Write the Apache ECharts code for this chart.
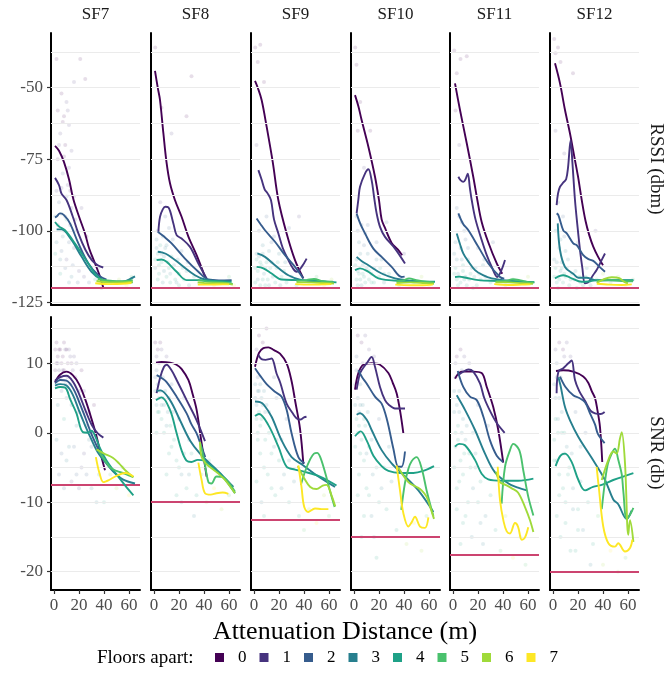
<!DOCTYPE html>
<html>
<head>
<meta charset="utf-8">
<script src="https://cdn.jsdelivr.net/npm/echarts@6/dist/echarts.min.js"></script>
<style>
  html, body { margin: 0; padding: 0; background: #fff; }
  #chart { width: 665px; height: 673px; }
</style>
</head>
<body>
<div id="chart"></div>
<script>
// facet labels, floors, colours
const sfLabels = ['SF7', 'SF8', 'SF9', 'SF10', 'SF11', 'SF12'];
const floorLabels = ['0', '1', '2', '3', '4', '5', '6', '7'];
const floorColors = ['#440154', '#46337E', '#365C8D', '#277F8E', '#1FA187', '#4AC16D', '#9FDA3A', '#FDE725'];

// ticks and gridlines
const xTicks = [0, 20, 40, 60];
const rssiTicks = [-125, -100, -75, -50];
const snrTicks = [-20, -10, 0, 10];
const rssiGridLines = [-125, -112.5, -100, -87.5, -75, -62.5, -50, -37.5];
const snrGridLines = [-20, -15, -10, -5, 0, 5, 10, 15];

// sensitivity limits per SF
const rssiLimit = [-120, -120, -120, -120, -120, -120];
const snrLimit = [-7.5, -10, -12.5, -15, -17.5, -20];

// RSSI smoothed curves, one array per floor (0..7)
const rssiSF7 = [
  [[0.8,-70.3],[4,-72],[8,-76],[12,-82],[15.5,-89],[20,-95],[24.8,-100.9],[28,-106],[32.8,-111.4],[36,-115],[39.4,-119.8]],
  [[0.8,-81.5],[4,-84],[6,-87],[10.1,-89.3],[15,-95],[19.5,-100.9],[25,-106.5],[30.2,-110.2],[35,-112],[39.4,-112.8]],
  [[0.8,-95.3],[2.1,-95],[4.8,-93.9],[8,-94.5],[12.8,-97.4],[19.5,-104.4],[27.5,-111.4],[35.5,-115.5],[42,-117]],
  [[2.1,-99.5],[6,-99.5],[14,-103.2],[22,-109],[30,-114.3],[38,-117],[46,-117.8],[55,-117.8],[60,-117],[64.8,-115.9]],
  [[0.8,-96.9],[4,-98.5],[8.8,-99.8],[16.8,-104.4],[27.5,-111.4],[35.5,-116.3],[46,-117.8],[55,-118],[63,-118]],
  [[35,-116.8],[42,-117.3],[50,-117.6],[58,-117.5],[63,-117.2]],
  [[34,-117.5],[45,-118],[55,-118],[63,-117.8]],
  [[33,-118.3],[45,-118.6],[55,-118.5],[62,-118.2]]
];
const rssiSF8 = [
  [[0.8,-44.1],[3,-50],[4.8,-54.3],[7.5,-65.9],[10,-76],[12.8,-83.4],[16.8,-89.3],[22,-95],[27.5,-102],[34.1,-108.5],[40.8,-116.1]],
  [[3.5,-100.3],[4.8,-95.1],[7,-92.5],[9,-91.6],[11.5,-91.8],[15.5,-97.4],[18.1,-101.5],[22.1,-102.7],[28.8,-105.6],[35.5,-111.4],[42.1,-116.6]],
  [[3,-100.3],[8,-102],[14.1,-104.4],[24.8,-109.7],[35.5,-114.3],[43.5,-117],[52,-117.3],[62.1,-117.2]],
  [[3,-107.3],[6,-107.5],[11.5,-108.5],[22.1,-112],[32.8,-115.5],[40.8,-117],[50,-117.5]],
  [[2.1,-110.2],[6,-110],[10.1,-110.8],[18.1,-114.3],[26.1,-117.2],[35.5,-117.2],[48,-117.5],[62.1,-117.8]],
  [[35,-117.2],[45,-117.8],[55,-118],[63,-118.5]],
  [[35,-118],[45,-118.3],[55,-118.3],[63,-118.8]],
  [[35,-118.8],[45,-118.8],[55,-118.7],[60,-118.7]]
];
const rssiSF9 = [
  [[0.8,-47.6],[3,-50],[6.1,-54.3],[10.1,-63.6],[15,-76],[19.5,-89.3],[26.1,-100.9],[32.8,-110.2],[39.5,-116.6]],
  [[3.5,-78.8],[6,-82],[8.5,-85.5],[11,-87],[13.6,-89.3],[16,-96],[19.5,-100.9],[23,-106],[27.5,-110.2],[31,-113],[34.1,-114.3],[38.1,-112.6],[42.1,-109.7]],
  [[2.1,-95.7],[5,-97.5],[8.8,-99.8],[16.8,-103.8],[24.8,-108.5],[32.8,-112.6],[39.4,-116.6]],
  [[2.7,-107.9],[8.8,-109.1],[16.8,-112],[27.5,-115.5],[38.1,-117.2],[50,-117.6],[63.5,-118]],
  [[2.1,-112.6],[7.5,-113.1],[14.1,-114.9],[22.1,-117],[35.5,-117.2],[50,-117.5],[66,-118]],
  [[34,-117.5],[42,-117.2],[48,-116.8],[55,-117.6],[63,-117.8]],
  [[34,-118],[45,-118],[55,-118.2],[64,-118.4]],
  [[33,-118.6],[45,-118.8],[55,-118.7],[62,-118.6]]
];
const rssiSF10 = [
  [[0.8,-52.6],[3.5,-56.5],[6.1,-61.3],[11.5,-70.6],[16.8,-81.1],[20,-89.3],[22.1,-96],[24.8,-99],[30.1,-104.2],[35,-106.5],[38.5,-108.5]],
  [[2.1,-93.9],[3.5,-89],[4.8,-84.6],[8.8,-80],[11.5,-78.5],[14.1,-82.3],[16,-88],[18.1,-93.9],[20.8,-98.6],[24.8,-102.1],[32.8,-106.2],[40.8,-111.4]],
  [[2.1,-94],[5,-97.5],[8.8,-100.9],[15.5,-106.2],[22.1,-109.1],[30.1,-112.6],[38.1,-116.1],[40.5,-116]],
  [[2.1,-109.1],[6,-110.5],[11.5,-112],[22.1,-114.9],[32.8,-116.6],[40.8,-117.2],[50,-117.5]],
  [[0.8,-113.7],[4.8,-113.1],[11.5,-114.3],[19.5,-116.6],[30.1,-117.3],[45,-117.6],[64.8,-117.8]],
  [[34,-117.6],[40,-117.2],[44,-116.6],[50,-117.2],[58,-117.8],[64,-118]],
  [[34,-118.2],[45,-118],[55,-118.2],[64,-118.5]],
  [[33,-118.8],[45,-119],[55,-119],[63,-118.8]]
];
const rssiSF11 = [
  [[1.6,-48.5],[5.6,-57.8],[11,-69.4],[16.2,-81.1],[19.5,-89.3],[23,-97],[28.2,-104],[35,-111.4],[39.4,-115]],
  [[4.3,-81.1],[6,-82.3],[8.2,-82.9],[10,-82],[11.8,-80],[13.5,-85],[15,-89.3],[18,-96],[23,-103.3],[27,-108.5],[31,-112.6],[35.4,-116.1],[38.5,-114],[41.6,-110.2]],
  [[4.3,-93.9],[8,-97.5],[12.3,-99.8],[20.3,-105.6],[28.3,-111.4],[37.6,-116.1],[41,-116.7]],
  [[3,-100.9],[5.5,-104.5],[8.2,-107.9],[12,-110.5],[17.6,-113.7],[24,-115.5],[31,-116.6],[45,-117.4],[65,-118]],
  [[1.6,-116.1],[5,-116],[9.6,-116.3],[20.3,-117.2],[35.4,-117.5],[50,-117.7],[65,-117.9]],
  [[34,-117.7],[42,-117.5],[48,-116.9],[54,-117.3],[60,-117.9],[65,-118]],
  [[34,-118],[45,-118],[55,-118.3],[64,-118.5]],
  [[33,-118.6],[45,-118.9],[55,-118.8],[62,-118.7]]
];
const rssiSF12 = [
  [[1.6,-41.5],[5.6,-48.5],[9.6,-57.8],[13.6,-66],[17,-74],[20,-81],[23,-89.3],[26,-96.5],[29,-101.5],[32.2,-105.5],[36,-109],[40,-112]],
  [[2.9,-91],[4,-87],[5.6,-84.6],[8.5,-83],[10.5,-82],[12,-78],[14.1,-68.3],[15.5,-76],[17.6,-89.3],[19.5,-98],[21.6,-106.7],[23.5,-113],[25.6,-118.3],[28.2,-118],[32,-115.5],[34.9,-113.7],[38,-111],[41.6,-107.9]],
  [[2.9,-93.9],[4.3,-94.5],[8.2,-99.8],[11,-100.9],[16.2,-104.4],[19,-105],[24.2,-108.5],[28,-109.8],[32.2,-110.5],[37,-112.5],[41.6,-114.3]],
  [[3.8,-97.4],[5.6,-106.7],[9.6,-112.6],[16.2,-115],[20.3,-116.4],[26.9,-116.4],[33.6,-117.2],[45,-117.3],[64.3,-117.3]],
  [[1.6,-116.6],[5,-115.8],[8.2,-115.5],[12,-116],[14.9,-116.6],[22.9,-117.8],[30,-117.6],[36.2,-117.2],[50,-117.2],[64.3,-117.2]],
  [[35,-117.5],[45,-117.2],[55,-117.5],[64,-117.6]],
  [[35,-118.2],[40,-117],[47,-116.2],[53,-116.5],[57,-117.8],[60,-118.3]],
  [[35,-118.5],[45,-118.8],[55,-118.9],[63,-118.7]]
];

// SNR smoothed curves, one array per floor (0..7)
const snrSF7 = [
  [[0.8,7.3],[5,8.4],[10,8.8],[15,8.3],[20,7],[25,4.8],[30,2],[34,-0.5],[37,-2.8],[40.8,-5.4]],
  [[0.8,7.5],[5,8],[10,8.2],[15,7.4],[20,5.6],[25,3.3],[30,1.2],[35,-0.1],[39.5,-0.7]],
  [[0.8,7.1],[5,7.6],[10,7.5],[15,6.5],[20,4.5],[25,2.2],[30,-0.2],[35,-2.2],[40,-4]],
  [[0.8,6.8],[5,7],[10,6.8],[15,5.5],[20,3.2],[25,1],[30,-1],[35,-2.8],[40,-4],[47,-5.5],[55,-6.7],[64.8,-7.3]],
  [[0.8,6.4],[5,6.6],[9,6.5],[13,4.8],[18,2.8],[23,0.1],[27,0],[30,0.3],[33,-0.5],[37,-2.3],[42,-4],[50,-6],[57,-7.6],[63.5,-9]],
  [[35,-2.4],[40,-3.8],[45,-5],[50,-5.5],[57,-5.9],[63.5,-6.4]],
  [[34,-2.4],[40,-3],[47,-3.6],[52,-4.4],[57,-5.4],[63.5,-6.4]],
  [[33.5,-3.5],[36.5,-5.9],[39.5,-7.1],[44,-6.8],[50,-6.2],[57,-5.8],[63.5,-6.3]]
];
const snrSF8 = [
  [[1.6,10.1],[6,10.2],[12.8,10.1],[18,9.8],[22,9.2],[27.5,7.6],[31,5.5],[34.1,3.3],[38.1,-1.5],[42.1,-6.3]],
  [[2.1,5.7],[5,8],[8,9.5],[10.1,9.8],[14,9],[18.1,7.6],[26.1,4.7],[34.1,1.8],[40.8,-1.2]],
  [[2.1,8.3],[6,7.9],[10.1,7.3],[18.1,5.2],[26.1,2.8],[30,1.2],[34.1,-0.1],[38,-2],[41,-3.5]],
  [[2.1,6],[5,6.1],[12.8,4.7],[20.8,1.8],[28.8,-1.1],[36.8,-3],[47.5,-4.9],[55,-6.2],[63.5,-7.8]],
  [[1.6,4.7],[6,5.1],[12.8,3.3],[18,0],[22,-2.5],[26,-4],[30,-4.2],[35,-3.9],[40,-4],[47,-5],[55,-6.3],[64.8,-8.7]],
  [[37,-1.5],[40,-3.8],[43.5,-7.1],[46,-7.3],[50,-6.3],[55,-6.4],[60,-7.2],[64.8,-8.5]],
  [[36.8,-1.3],[38.1,-3.5],[42,-4.5],[46,-5.1],[51,-5.8],[56.8,-6.8],[64.8,-8.7]],
  [[35.5,-4.3],[38.1,-6.8],[40.8,-8.7],[45.4,-8.9],[50,-8.7],[55,-8.6],[59.5,-8.8]]
];
const snrSF9 = [
  [[0.8,9.5],[4,11.5],[7.5,12.2],[11.5,12.3],[16,11.9],[20.8,11.4],[26.1,10],[30,7.5],[33,4.5],[36.8,0.6],[39.5,-4.5]],
  [[3.5,11.2],[6,10.6],[9.4,10.5],[12,10.6],[14.1,10.7],[18.1,8.5],[21,7.2],[26.1,4.2],[31,2.8],[34,2.1],[37,1.9],[40,2.2],[42,2.3]],
  [[0.8,9.3],[5,8.2],[10.1,7],[16.8,5.9],[22.1,5.2],[26.1,3.3],[30.1,-0.1],[35.5,-3.5],[40.3,-4.4]],
  [[0.8,4.5],[4.8,4.4],[8,4],[14.1,2.3],[22.1,-1.1],[30.1,-3.5],[39.5,-4.7],[51.5,-6.3],[64.8,-7.8]],
  [[0.8,2.4],[4,2.7],[11.5,1.1],[19.5,-2],[26.1,-4.9],[32.8,-5.3],[40,-5.6],[52.8,-6.3],[66,-7.6]],
  [[37.5,-7.5],[41,-5.5],[45,-3.8],[48,-3],[50.5,-2.9],[53,-3.5],[57,-5.8],[61,-8.5],[64.5,-10.7]],
  [[35,-4.8],[40,-6.5],[45,-7.8],[50,-8.1],[55,-7.6],[58,-7.5],[62,-9],[65,-10.6]],
  [[35.5,-4.7],[38,-7.8],[40.2,-10.7],[43.5,-11.4],[48.8,-10.9],[54,-11],[59.5,-11]]
];
const snrSF10 = [
  [[0.8,6.2],[3.5,8.6],[7.5,9.8],[14.1,10],[20.8,9.8],[27.5,8.6],[31,7.2],[34.1,5.7],[37,3],[39.5,-0.1]],
  [[2.1,6.2],[4.5,8.4],[6.1,9],[10.1,10],[14.1,10.9],[16.8,9.5],[20.8,6.6],[24.8,4.7],[28,4],[32.8,3.5],[35.5,3.5],[40.8,3.5]],
  [[3.5,9],[6.5,8],[10.1,7.1],[16.8,5.2],[22.1,4.2],[26.5,1.8],[31.5,-2.3],[35.5,-4.9],[38,-4.9],[40.8,-2.7]],
  [[2.1,2.6],[4.8,2.8],[10.1,1.9],[14.1,0.4],[22.1,-2.5],[30.1,-4.4],[40.8,-6.3],[51.5,-8.3],[63.5,-11.4]],
  [[0.8,-0.5],[5.4,0.2],[10.1,-1.1],[15.5,-3.3],[22.1,-4.8],[27.5,-5.5],[36.8,-5.8],[47.5,-5.8],[55.4,-5.5],[64,-4.8]],
  [[37.8,-11.1],[40.8,-7.2],[43.5,-5.2],[46.1,-4.1],[50.1,-3.5],[54.1,-5.1],[58.1,-8.3],[63.5,-12]],
  [[35.5,-5],[43.5,-7.1],[50.1,-7.8],[54.1,-8.3],[58,-9.2],[61,-10.7],[64,-12.4]],
  [[34.1,-4.7],[36.8,-8.3],[39.5,-11.6],[43.5,-13.5],[46.1,-12.9],[48.8,-12.1],[52.8,-13.5],[56.8,-13.7],[59.5,-12.2]]
];
const snrSF11 = [
  [[1.6,7.8],[7,8.8],[16.2,8.8],[22.9,8.6],[27,6.6],[32.2,3.7],[36.2,0.4],[40.2,-4.3]],
  [[4.3,8.3],[8.2,8.8],[12.3,9.1],[16.2,8.8],[21.6,7.1],[25,5],[30,3],[35,1.4],[41.3,0]],
  [[3.8,8.9],[8.2,6.6],[13.6,5.2],[19,4.7],[24.3,2.3],[29.6,-1.1],[35,-3.3],[40,-4.2]],
  [[3,5.4],[9.6,3.3],[17.6,0.4],[25.6,-3],[33.6,-5.7],[44.3,-7.3],[52,-7.9],[59,-8.3]],
  [[1.6,-2],[5,-1.6],[9.6,-1.8],[17.6,-3.9],[22.9,-5.9],[28.2,-6.7],[38.9,-6.9],[52.2,-6.9],[64.3,-6.6]],
  [[38.9,-10.2],[41.6,-4.9],[45.6,-2.5],[48.2,-1.6],[53,-2.5],[56.2,-5.4],[60.2,-9.2],[64.3,-11.9]],
  [[34.5,-5.6],[37.6,-7.1],[42,-7.5],[47,-8],[52,-8.6],[57.6,-10.7],[61.6,-12.6],[64.3,-14.3]],
  [[35.8,-4.9],[37.6,-9.7],[40.5,-12.8],[43,-14.2],[45.6,-14.5],[49.6,-13],[52,-13.5],[55,-15.4],[57.5,-15.1],[60.2,-13.6]]
];
const snrSF12 = [
  [[2.4,8.9],[8.2,9],[16.2,8.8],[24.2,8.1],[28.2,7.2],[31,6],[33.6,5],[35.5,3.3],[37.6,0.8],[39.4,-4.2]],
  [[2.9,5.7],[4.3,8.8],[8.2,9.3],[12.3,10],[14.9,10.4],[17.6,7.6],[21,6],[25.6,4.6],[30,3.2],[33.6,2.8],[38,2.7],[41.3,3]],
  [[5.6,8.1],[10,6.6],[16.2,5.4],[21,5],[25.6,4.4],[29.6,2.8],[33.6,1.2],[36,-0.2],[41.3,-1.5]],
  [[4.3,8],[6,6.8],[9.6,3.7],[13.6,1.8],[20.3,-0.6],[30.9,-3.6],[41.6,-6.8],[48.2,-9.6],[52.2,-10.3],[58.9,-12.4],[62.9,-11.2]],
  [[2.1,-4.8],[6,-3.3],[9.6,-3],[14.9,-4.2],[20.3,-6.8],[25.6,-8.3],[32,-7.8],[39,-7.5],[48.2,-6.8],[64.3,-5.8]],
  [[39,-11],[41.6,-7],[44,-4.4],[47,-3],[49.6,-2.3],[52.2,-3.9],[55,-6],[56.2,-8.3],[58.9,-12.4],[61.6,-11.8],[64.3,-10.8]],
  [[39,-6.8],[44.3,-3.9],[48.2,-2.7],[50.9,-3],[53.6,-0.8],[55,0.1],[57.6,-4.4],[60.2,-14.7],[61.6,-12.6],[64.3,-15.7]],
  [[34.9,-4.9],[36.6,-7.8],[40.2,-13.5],[44.3,-15.9],[49.6,-16.4],[52.2,-15.9],[57.6,-17.1],[61.6,-16.6],[63.5,-15.4]]
];

// raw measurements (faint), [distance, value, floor]
const rssiPtsSF7 = [[2,-40,0],[21,-40,0],[16,-48,1],[25,-47,0],[6,-52,0],[10,-55,1],[8,-60,0],[12,-63,1],[5,-66,1],[9,-70,0],[14,-72,1],[3,-75,0],[7,-80,2],[11,-84,1],[16,-88,1],[4,-90,2],[9,-95,2],[13,-98,1],[18,-100,2],[2,-104,3],[6,-107,2],[10,-110,1],[15,-112,2],[20,-114,1],[24,-116,1],[28,-118,2],[33,-117,4],[5,-115,4],[12,-118,3],[38,-120,3],[45,-118,5],[52,-117,6],[58,-119,7],[62,-116,5],[22,-92,1],[26,-102,0],[30,-109,3],[35,-113,3],[1,-95,3],[8,-100,4],
  [3,-58,0],[7,-62,0],[11,-58,1],[4,-70,1],[8,-74,0],[12,-78,1],[6,-85,1],[10,-88,2],[14,-92,1],[3,-98,2],[7,-102,3],[12,-104,2],[16,-106,1],[5,-110,3],[9,-113,2],[14,-116,3],[19,-118,2],[1,-108,4],[17,-96,1],[22,-108,1],[13,-86,0],[6,-94,3],[2,-86,1],[10,-96,4]];
const rssiPtsSF8 = [[1,-36,0],[30,-46,0],[26,-60,0],[6,-57,0],[14,-66,1],[5,-90,1],[9,-95,2],[3,-100,2],[12,-99,2],[2,-106,3],[6,-108,3],[10,-105,3],[14,-109,4],[4,-112,4],[8,-114,3],[12,-113,4],[16,-112,3],[20,-115,4],[3,-117,4],[18,-118,3],[24,-117,4],[28,-119,3],[32,-116,4],[36,-118,5],[42,-117,6],[48,-119,7],[55,-118,6],[60,-116,5],[64,-119,7],[22,-107,2],[27,-111,3],[7,-102,3],[1,-110,4],[15,-103,2],
  [2,-103,3],[5,-105,4],[8,-109,3],[11,-111,4],[4,-115,4],[7,-118,3],[10,-116,4],[13,-115,3],[17,-117,4],[1,-113,3],[6,-111,4],[19,-110,3],[23,-113,4],[3,-108,4],[9,-106,3],[13,-118,4],[20,-119,4],[26,-114,3]];
const rssiPtsSF9 = [[1,-36,0],[5,-35,0],[3,-41,0],[8,-48,0],[2,-70,1],[10,-95,2],[4,-100,2],[7,-105,3],[2,-108,3],[12,-107,3],[5,-111,4],[9,-113,4],[14,-111,3],[3,-114,4],[18,-113,4],[22,-116,4],[7,-117,4],[12,-119,3],[26,-118,4],[30,-116,3],[34,-119,4],[38,-117,5],[44,-118,6],[50,-116,5],[56,-119,7],[62,-117,6],[16,-102,2],[20,-108,3],[25,-111,3],[1,-118,4],[28,-99,2],[36,-95,1],
  [2,-110,4],[4,-109,3],[6,-112,4],[8,-115,3],[10,-111,4],[11,-117,4],[13,-113,4],[15,-116,3],[17,-118,4],[3,-117,3],[5,-119,4],[19,-111,4],[21,-119,3],[24,-114,4],[7,-108,3],[1,-113,4],[14,-104,2],[9,-119,4]];
const rssiPtsSF10 = [[1,-36,0],[2,-42,0],[5,-55,0],[3,-65,0],[8,-78,1],[13,-65,0],[2,-95,2],[6,-98,2],[4,-104,3],[9,-101,2],[2,-110,3],[7,-112,3],[11,-108,3],[4,-115,4],[8,-116,4],[12,-114,4],[16,-113,3],[20,-116,4],[3,-119,4],[14,-118,4],[24,-118,3],[28,-115,4],[32,-117,4],[36,-119,5],[42,-117,6],[48,-118,5],[54,-116,6],[60,-119,7],[18,-104,2],[22,-110,3],[26,-97,2],[40,-108,1],
  [1,-112,4],[3,-114,3],[5,-117,4],[7,-115,4],[9,-118,4],[10,-113,3],[12,-117,4],[14,-115,3],[16,-118,4],[2,-117,4],[6,-119,3],[18,-110,3],[21,-113,4],[24,-115,4],[5,-108,3],[8,-105,2],[11,-98,2],[3,-100,2]];
const rssiPtsSF11 = [[1,-37,0],[3,-45,0],[6,-40,0],[11,-39,0],[2,-58,0],[5,-70,1],[3,-92,2],[7,-97,2],[2,-104,3],[6,-106,3],[10,-103,2],[3,-110,3],[8,-112,4],[12,-110,3],[1,-115,4],[5,-116,4],[9,-117,4],[14,-115,4],[18,-113,3],[22,-117,4],[4,-119,4],[16,-120,4],[26,-116,3],[30,-118,4],[36,-117,5],[42,-119,6],[48,-117,5],[54,-118,7],[60,-116,6],[20,-106,2],[25,-110,3],[32,-104,2],
  [2,-113,4],[4,-115,3],[6,-118,4],[8,-114,4],[10,-116,3],[11,-119,4],[13,-117,4],[15,-113,3],[17,-116,4],[19,-119,4],[3,-117,4],[7,-110,3],[21,-115,4],[24,-112,3],[1,-108,3],[12,-106,2],[9,-100,2],[5,-95,2]];
const rssiPtsSF12 = [[1,-33,0],[2,-38,0],[4,-36,0],[6,-41,0],[16,-45,0],[2,-65,1],[9,-73,1],[4,-90,2],[8,-95,2],[2,-100,3],[6,-103,3],[10,-107,3],[3,-111,3],[7,-113,4],[12,-110,3],[1,-116,4],[5,-117,4],[9,-115,4],[14,-117,4],[18,-114,3],[22,-118,4],[4,-120,4],[26,-116,4],[30,-119,3],[35,-117,5],[40,-115,6],[46,-118,5],[52,-116,6],[58,-119,7],[64,-117,5],[20,-104,2],[34,-100,1],
  [2,-113,4],[4,-116,4],[6,-114,3],[8,-118,4],[10,-116,4],[11,-113,3],[13,-119,4],[15,-115,4],[17,-117,3],[19,-120,4],[3,-118,4],[7,-111,3],[21,-116,4],[24,-119,4],[1,-110,3],[5,-106,3],[9,-102,2],[27,-113,3]];
const snrPtsSF7 = [[1,12,0],[3,11,0],[5,12,0],[7,11,0],[9,12,1],[11,10,0],[13,11,1],[4,9,1],[8,9,0],[2,10,0],[15,9,1],[18,10,1],[6,6,2],[10,5,2],[3,4,3],[14,4,2],[20,3,2],[24,6,1],[28,3,1],[32,4,0],[2,-1,3],[6,-3,2],[10,-4,3],[16,-2,2],[22,-5,1],[26,-6,2],[30,-8,3],[36,-6,4],[40,-10,4],[45,-6,5],[50,-8,6],[55,-5,5],[60,-9,7],[12,-2,3],[18,1,3],[8,2,4],[4,-6,2],[20,-8,1],[34,-10,3],[28,-1,3],
  [2,13,0],[4,12,0],[6,10,0],[8,13,0],[10,12,0],[12,12,1],[14,10,0],[16,11,1],[3,10,1],[5,8,1],[7,9,1],[9,7,2],[11,8,1],[1,9,0],[13,7,1],[17,8,1],[20,6,1],[22,9,0],[26,1,1],[30,-2,2],[24,-3,1],[18,-6,2],[14,-7,1],[8,-8,2]];
const snrPtsSF8 = [[1,13,0],[3,12,0],[6,12,1],[4,10,1],[10,11,1],[2,9,2],[7,8,2],[1,6,3],[4,5,3],[8,4,3],[12,5,2],[3,3,4],[6,2,4],[10,1,3],[15,3,3],[20,2,3],[24,5,2],[28,-1,3],[14,-2,4],[18,-4,4],[22,-6,3],[26,-8,4],[30,-3,4],[34,-9,4],[38,-6,5],[42,-10,6],[48,-8,7],[54,-11,6],[60,-9,5],[2,0,4],[32,-12,3],[44,-4,5],
  [2,11,1],[5,13,0],[1,8,2],[3,7,3],[5,6,3],[7,5,3],[2,4,3],[4,3,4],[6,4,3],[9,6,3],[11,3,3],[13,1,4],[8,0,4],[16,-1,4],[20,-5,4],[24,-3,3],[10,-6,4],[18,-9,4],[28,-6,3],[12,-3,4],[22,-10,3],[14,7,2]];
const snrPtsSF9 = [[4,14,0],[7,13,0],[10,15,0],[2,12,1],[3,8,2],[1,5,3],[4,6,3],[7,4,3],[2,2,4],[5,1,4],[9,3,3],[12,0,4],[3,-1,4],[16,-2,3],[20,-4,4],[8,-5,4],[24,-6,3],[14,-8,4],[28,-10,4],[32,-7,3],[36,-12,4],[40,-14,5],[44,-11,6],[50,-13,7],[56,-9,6],[60,-12,5],[22,-1,3],[18,5,2],[26,2,2],[6,-10,3],
  [1,7,3],[3,6,3],[5,7,3],[2,4,3],[4,3,4],[6,5,3],[8,6,3],[10,4,3],[3,0,4],[6,2,4],[9,-1,4],[12,3,3],[14,-3,4],[18,-1,3],[5,-3,4],[11,-6,4],[17,-9,4],[22,-8,3],[2,-7,4],[8,-12,4],[28,-4,3],[16,8,2]];
const snrPtsSF10 = [[3,14,0],[6,13,0],[9,14,1],[12,12,1],[16,11,1],[2,9,2],[5,7,3],[1,4,3],[4,3,3],[8,2,4],[3,0,4],[6,-1,4],[10,-3,3],[14,-1,3],[18,-5,4],[4,-6,4],[22,-8,3],[12,-9,4],[26,-11,4],[30,-7,3],[34,-14,4],[38,-10,5],[42,-16,6],[48,-13,7],[54,-17,6],[58,-12,5],[20,2,2],[28,-2,3],[8,-12,4],[16,-15,3],
  [1,7,3],[3,5,3],[5,4,3],[2,2,4],[4,1,4],[7,4,3],[9,1,4],[11,3,3],[1,-2,4],[5,-3,4],[8,-4,4],[12,-2,4],[15,-6,3],[3,-9,4],[10,-8,4],[20,-10,4],[24,-5,3],[6,-15,4],[14,-12,3],[18,-18,4],[2,11,2],[7,10,1]];
const snrPtsSF11 = [[3,11,0],[6,12,0],[9,11,1],[13,10,1],[2,8,2],[5,6,3],[1,3,3],[4,1,4],[8,2,3],[2,-2,4],[6,-4,4],[10,-1,3],[14,-5,4],[18,-3,3],[3,-8,4],[22,-7,4],[12,-10,4],[26,-12,3],[30,-9,4],[34,-14,4],[38,-17,5],[42,-12,6],[48,-18,7],[54,-15,6],[58,-19,5],[20,4,2],[16,0,3],[8,-13,4],[24,-16,3],[28,1,2],
  [1,6,3],[3,4,3],[5,3,3],[2,0,4],[4,-1,4],[7,0,3],[9,-3,4],[11,1,3],[1,-5,4],[5,-7,4],[8,-6,4],[13,-3,4],[16,-8,3],[3,-11,4],[10,-12,4],[20,-10,4],[22,-13,3],[6,-16,4],[15,-15,3],[18,-5,3],[2,10,1],[7,9,2]];
const snrPtsSF12 = [[5,13,0],[8,12,0],[11,13,1],[14,11,1],[3,10,2],[6,8,2],[2,5,3],[4,2,3],[1,-1,4],[7,0,4],[3,-4,4],[9,-3,3],[12,-6,4],[5,-9,4],[16,-8,3],[20,-11,4],[10,-13,4],[24,-14,3],[28,-10,4],[32,-16,4],[36,-12,5],[40,-19,6],[46,-17,7],[52,-20,6],[58,-18,5],[18,3,2],[22,-2,3],[14,-17,4],[26,0,2],[30,-19,3],
  [1,7,3],[3,8,2],[5,5,3],[2,2,4],[4,0,4],[7,3,3],[9,0,4],[11,-2,3],[1,-4,4],[5,-6,4],[8,-8,4],[13,-5,4],[16,-11,3],[3,-12,4],[10,-10,4],[20,-14,4],[22,-7,3],[6,-15,4],[15,-3,3],[18,-17,4],[2,12,1],[9,11,1]];

const rssiCurves = [rssiSF7, rssiSF8, rssiSF9, rssiSF10, rssiSF11, rssiSF12];
const snrCurves = [snrSF7, snrSF8, snrSF9, snrSF10, snrSF11, snrSF12];
const rssiPts = [rssiPtsSF7, rssiPtsSF8, rssiPtsSF9, rssiPtsSF10, rssiPtsSF11, rssiPtsSF12];
const snrPts = [snrPtsSF7, snrPtsSF8, snrPtsSF9, snrPtsSF10, snrPtsSF11, snrPtsSF12];

// layout
const FONT = 'Liberation Serif';
const panelLeft = [51, 151, 251, 351, 450, 550];
const panelWidth = 89;
const rows = [
  { top: 33, height: 272, yMin: -125.9, yMax: -30.9, ticks: rssiTicks, grid: rssiGridLines, limit: rssiLimit, curves: rssiCurves, pts: rssiPts },
  { top: 317, height: 273, yMin: -22.64, yMax: 16.67, ticks: snrTicks, grid: snrGridLines, limit: snrLimit, curves: snrCurves, pts: snrPts }
];

const chart = echarts.init(document.getElementById('chart'), null, { renderer: 'canvas' });

const grids = [], xAxes = [], yAxes = [], series = [];

rows.forEach((row, r) => {
  sfLabels.forEach((sf, c) => {
    const gi = grids.length;
    grids.push({ left: panelLeft[c], top: row.top, width: panelWidth, height: row.height, containLabel: false });

    xAxes.push({
      gridIndex: gi, type: 'value', min: -2.4, max: 68.8,
      axisLine: { show: true, onZero: false, lineStyle: { color: '#000', width: 2 } },
      axisTick: { show: r === 1, length: 4, customValues: xTicks, lineStyle: { color: '#333', width: 1.2 } },
      axisLabel: { show: r === 1, customValues: xTicks, color: '#4d4d4d', fontSize: 17, fontFamily: FONT, margin: 7 },
      splitLine: { show: false }
    });

    yAxes.push({
      gridIndex: gi, type: 'value', min: row.yMin, max: row.yMax,
      axisLine: { show: true, onZero: false, lineStyle: { color: '#000', width: 2 } },
      axisTick: { show: c === 0, length: 4, customValues: row.ticks, lineStyle: { color: '#333', width: 1.2 } },
      axisLabel: { show: c === 0, customValues: row.ticks, color: '#4d4d4d', fontSize: 17, fontFamily: FONT, margin: 8 },
      splitLine: { show: false }
    });

    // background gridlines
    series.push({
      type: 'line', xAxisIndex: gi, yAxisIndex: gi, data: [], silent: true, z: 1,
      markLine: {
        silent: true, symbol: 'none', animation: false, label: { show: false },
        lineStyle: { color: '#ebebeb', width: 1.2, type: 'solid' },
        data: row.grid.map(v => ({ yAxis: v }))
      }
    });

    // faint raw points
    series.push({
      type: 'scatter', xAxisIndex: gi, yAxisIndex: gi, silent: true, z: 2,
      symbolSize: 4,
      data: row.pts[c].map(p => ({ value: [p[0], p[1]], itemStyle: { color: floorColors[p[2]], opacity: 0.13 } }))
    });

    // sensitivity limit
    series.push({
      type: 'line', xAxisIndex: gi, yAxisIndex: gi, data: [], silent: true, z: 3,
      markLine: {
        silent: true, symbol: 'none', animation: false, label: { show: false },
        lineStyle: { color: '#cc4470', width: 1.8, type: 'solid' },
        data: [{ yAxis: row.limit[c] }]
      }
    });

    // smoothed curves per floor
    row.curves[c].forEach((pts, f) => {
      if (!pts || !pts.length) return;
      series.push({
        type: 'line', name: floorLabels[f], xAxisIndex: gi, yAxisIndex: gi, z: 4 + f,
        data: pts, smooth: 0.35, showSymbol: false, symbol: 'none', silent: true,
        color: floorColors[f],
        itemStyle: { color: floorColors[f] },
        lineStyle: { color: floorColors[f], width: 1.9 }
      });
    });
  });
});

const graphics = [];
sfLabels.forEach((sf, c) => {
  graphics.push({
    type: 'text', x: panelLeft[c] + panelWidth / 2, y: 15,
    style: { text: sf, font: '17px "' + FONT + '"', fill: '#1a1a1a', align: 'center', verticalAlign: 'middle' }
  });
});
graphics.push({
  type: 'text', x: 656, y: 169, rotation: -Math.PI / 2,
  style: { text: 'RSSI (dbm)', font: '19px "' + FONT + '"', fill: '#1a1a1a', align: 'center', verticalAlign: 'middle' }
});
graphics.push({
  type: 'text', x: 656, y: 453, rotation: -Math.PI / 2,
  style: { text: 'SNR (db)', font: '19px "' + FONT + '"', fill: '#1a1a1a', align: 'center', verticalAlign: 'middle' }
});
graphics.push({
  type: 'text', x: 345, y: 632,
  style: { text: 'Attenuation Distance (m)', font: '26px "' + FONT + '"', fill: '#000', align: 'center', verticalAlign: 'middle' }
});
graphics.push({
  type: 'text', x: 97, y: 658,
  style: { text: 'Floors apart:', font: '19px "' + FONT + '"', fill: '#000', align: 'left', verticalAlign: 'middle' }
});

chart.setOption({
  animation: false,
  backgroundColor: '#fff',
  grid: grids,
  xAxis: xAxes,
  yAxis: yAxes,
  series: series,
  legend: {
    data: floorLabels, left: 215, top: 649, padding: 0,
    icon: 'rect', itemWidth: 9, itemHeight: 9, itemGap: 13,
    selectedMode: false,
    textStyle: { fontFamily: FONT, fontSize: 17, color: '#000', padding: [0, 0, 0, 9] }
  },
  graphic: graphics
});
</script>
</body>
</html>
